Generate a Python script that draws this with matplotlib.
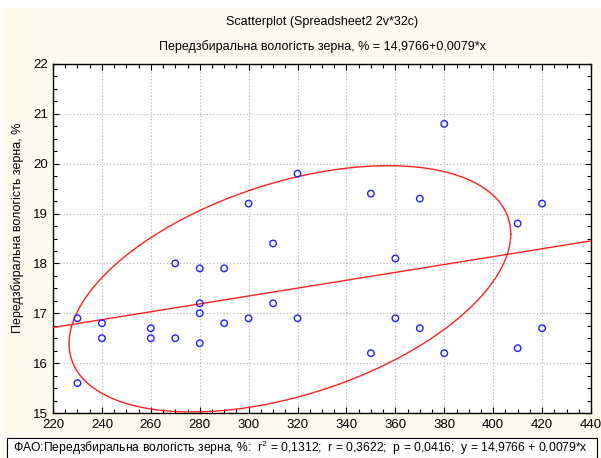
import numpy as np
import matplotlib
matplotlib.use("Agg")
import matplotlib.pyplot as plt
from matplotlib.patches import Rectangle
from matplotlib.ticker import MultipleLocator

plt.rcParams['font.family'] = ['Liberation Sans', 'DejaVu Sans']
plt.rcParams['mathtext.fontset'] = 'custom'
plt.rcParams['mathtext.rm'] = 'Liberation Sans'
plt.rcParams['mathtext.it'] = 'Liberation Sans'

# Data: ФАО (x) vs Передзбиральна вологість зерна, % (y)
fao = [230, 230, 240, 240, 260, 260, 270, 270, 280, 280, 280, 280,
       290, 290, 300, 300, 310, 310, 320, 320, 350, 350, 360, 360,
       370, 370, 380, 380, 410, 410, 420, 420]
moisture = [16.9, 15.6, 16.8, 16.5, 16.7, 16.5, 18.0, 16.5, 17.9, 17.2, 17.0, 16.4,
            17.9, 16.8, 19.2, 16.9, 18.4, 17.2, 19.8, 16.9, 19.4, 16.2, 18.1, 16.9,
            19.3, 16.7, 20.8, 16.2, 18.8, 16.3, 19.2, 16.7]

intercept = 14.9766
slope = 0.0079

# Ellipse shape (half extents and tilt factor)
ell_half_x = 90.3
ell_half_y = 2.47
ell_tilt = 0.445

x_ticks = list(range(220, 441, 20))
y_ticks = list(range(15, 23))

title = "Scatterplot (Spreadsheet2 2v*32c)"
subtitle = "Передзбиральна вологість зерна, % = 14,9766+0,0079*x"
ylabel = "Передзбиральна вологість зерна, %"
footer = ("ФАО:Передзбиральна вологість зерна, %:  r$^2$ = 0,1312;  r = 0,3622;  "
          "p = 0,0416;  y = 14,9766 + 0,0079*x")

W, H = 601, 458
fig = plt.figure(figsize=(W / 100, H / 100), dpi=100, facecolor='white')

# cream background panel
fig.patches.append(Rectangle((3 / W, 0), 1 - 3 / W, 1 - 8 / H, transform=fig.transFigure,
                             facecolor='#FFFAEE', edgecolor='none', zorder=-5))

ax = fig.add_axes([53 / W, 45 / H, (591 - 53) / W, (413 - 64) / H])
ax.set_zorder(1)
ax.set_facecolor('white')

x = np.array(fao, dtype=float)
y = np.array(moisture, dtype=float)

# ellipse
cx, cy = x.mean(), y.mean()
t = np.linspace(0, 2 * np.pi, 400)
delta = np.arccos(ell_tilt)
ex = cx + ell_half_x * np.cos(t)
ey = cy + ell_half_y * np.cos(t + delta)
ax.plot(ex, ey, color='#FF2020', lw=1.0, zorder=3, clip_on=True)

# regression line
xl = np.array([x_ticks[0], x_ticks[-1]], dtype=float)
ax.plot(xl, intercept + slope * xl, color='#FF2020', lw=1.0, zorder=3)

ax.scatter(x, y, s=22, facecolors='none', edgecolors='#2020FF', linewidths=1.0, zorder=4)

ax.set_xlim(x_ticks[0], x_ticks[-1])
ax.set_ylim(y_ticks[0], y_ticks[-1])
ax.set_xticks(x_ticks)
ax.set_yticks(y_ticks)
ax.xaxis.set_minor_locator(MultipleLocator(5))
ax.yaxis.set_minor_locator(MultipleLocator(0.25))
ax.tick_params(which='both', direction='in', top=True, right=True, labelsize=9.5, colors='black')
ax.tick_params(which='major', length=4, width=0.8)
ax.tick_params(which='minor', length=3, width=0.8)
ax.tick_params(axis='x', pad=4)
ax.grid(True, which='major', color='#B0B0B0', linestyle=(0, (1, 2)), lw=0.8)
for s in ax.spines.values():
    s.set_color('black')
    s.set_linewidth(1.0)

ax.set_ylabel(ylabel, fontsize=9)
ax.yaxis.set_label_coords(-(53 - 24) / (591 - 53), (413 - 228) / (413 - 64))

fig.text(0.5 * (53 + 591) / W, 1 - 22 / H, title, ha='center', va='center', fontsize=9)
fig.text(0.5 * (53 + 591) / W, 1 - 47 / H, subtitle, ha='center', va='center', fontsize=9)

# footer box
fig.patches.append(Rectangle((7 / W, 0.5 / H), (597 - 7) / W, (458 - 438) / H,
                             transform=fig.transFigure, facecolor='white',
                             edgecolor='black', lw=0.8, zorder=2))
fig.text(13 / W, 1 - 448 / H, footer, ha='left', va='center', fontsize=8.7, zorder=3)

fig.savefig('out.png', dpi=100, facecolor=fig.get_facecolor())
